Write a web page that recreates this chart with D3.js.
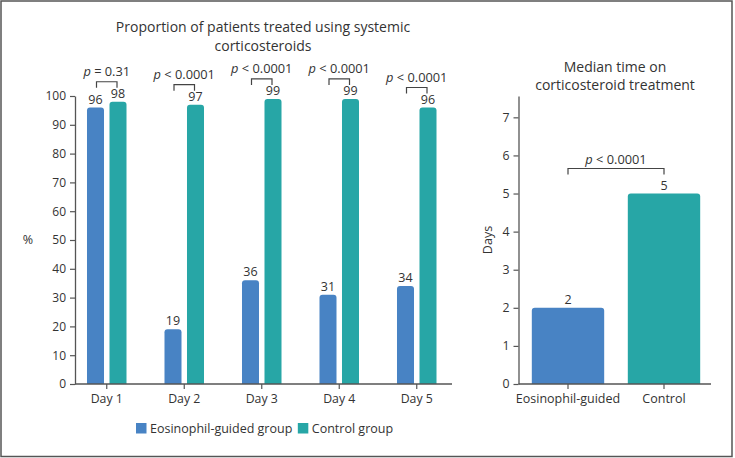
<!DOCTYPE html>
<html>
<head>
<meta charset="utf-8">
<script src="https://cdn.jsdelivr.net/npm/d3@7"></script>
<style>
  html, body { margin: 0; padding: 0; background: #fff; }
  svg { display: block; }
  text { font-family: "Open Sans", "Noto Sans", sans-serif; fill: #333; }
</style>
</head>
<body>
<svg id="chart" width="735" height="458"></svg>
<script>
// ---------- data ----------
const days = ["Day 1", "Day 2", "Day 3", "Day 4", "Day 5"];
const groups = ["Eosinophil-guided group", "Control group"];
const eosinophilPct = [96, 19, 36, 31, 34];
const controlPct = [98, 97, 99, 99, 96];
const dayPValues = ["= 0.31", "< 0.0001", "< 0.0001", "< 0.0001", "< 0.0001"];
const pctTicks = [0, 10, 20, 30, 40, 50, 60, 70, 80, 90, 100];

const medianCategories = ["Eosinophil-guided", "Control"];
const medianDays = [2, 5];
const medianPValue = "< 0.0001";
const dayTicks = [0, 1, 2, 3, 4, 5, 6, 7];

const colors = ["#4883c4", "#27a6a6"];
const axisColor = "#555";
const FONT = '"Open Sans", "Noto Sans", sans-serif';

const svg = d3.select("#chart");

// outer frame
svg.append("rect").attr("x", 1).attr("y", 1).attr("width", 731).attr("height", 455.5)
  .attr("fill", "none").attr("stroke", "#555").attr("stroke-width", 1.5);

function topRoundedBar(x, y, w, h, r) {
  r = Math.min(r, h, w / 2);
  return `M${x},${y + h}V${y + r}Q${x},${y} ${x + r},${y}H${x + w - r}Q${x + w},${y} ${x + w},${y + r}V${y + h}Z`;
}

function pLabel(g, x, y, rest) {
  const t = g.append("text").attr("x", x).attr("y", y).attr("text-anchor", "middle")
    .attr("font-size", 12.8);
  t.append("tspan").attr("font-style", "italic").text("p");
  t.append("tspan").text(" " + rest);
}

function bracket(g, x1, x2, yTop, leg) {
  g.append("path")
    .attr("d", `M${x1},${yTop + leg}V${yTop}H${x2}V${yTop + leg}`)
    .attr("fill", "none").attr("stroke", "#444").attr("stroke-width", 1.2);
}

function title(g, cx, y1, y2, l1, l2) {
  const t = g.append("text").attr("text-anchor", "middle").attr("font-size", 14);
  t.append("tspan").attr("x", cx).attr("y", y1).text(l1);
  t.append("tspan").attr("x", cx).attr("y", y2).text(l2);
}

function styleAxis(a, size) {
  a.selectAll(".tick line").attr("stroke", axisColor).attr("stroke-width", 1.2);
  a.selectAll(".tick text").attr("font-size", size).attr("fill", "#333").attr("font-family", FONT);
}

// ---------- left chart ----------
{
  const g = svg.append("g");
  const x0 = d3.scaleBand().domain(days).range([68, 455.5]).paddingInner(0).paddingOuter(0);
  const x1 = d3.scaleBand().domain(groups).range([-22.5, 22.5]).paddingInner(0.244).paddingOuter(0.122);
  const y = d3.scaleLinear().domain([0, 100]).range([384, 96]);

  title(g, 263, 32.3, 50.6, "Proportion of patients treated using systemic", "corticosteroids");

  // y axis
  const ya = g.append("g").attr("transform", "translate(75,0)")
    .call(d3.axisLeft(y).tickValues(pctTicks).tickSize(5).tickSizeOuter(0).tickPadding(4));
  ya.select(".domain").attr("stroke", axisColor).attr("stroke-width", 1.3);
  styleAxis(ya, 12);

  g.append("text").attr("x", 28).attr("y", 244).attr("text-anchor", "middle").attr("font-size", 12.5).text("%");

  // bars
  const rows = days.map((d, i) => ({ day: d, vals: [eosinophilPct[i], controlPct[i]], p: dayPValues[i] }));
  const dg = g.selectAll("g.day").data(rows).join("g").attr("class", "day")
    .attr("transform", d => `translate(${x0(d.day) + x0.bandwidth() / 2},0)`);

  dg.selectAll("path.bar").data(d => d.vals.map((v, j) => ({ v, grp: groups[j], j })))
    .join("path").attr("class", "bar")
    .attr("fill", d => colors[d.j])
    .attr("d", d => topRoundedBar(x1(d.grp), y(d.v), x1.bandwidth(), y(0) - y(d.v), 3));

  dg.selectAll("text.val").data(d => d.vals.map((v, j) => ({ v, grp: groups[j] })))
    .join("text").attr("class", "val")
    .attr("x", d => x1(d.grp) + x1.bandwidth() / 2)
    .attr("y", d => y(d.v) - 4)
    .attr("text-anchor", "middle").attr("font-size", 12.5)
    .text(d => d.v);

  dg.each(function (d) {
    const gg = d3.select(this);
    const m = Math.max(...d.vals);
    const top = y(m) - 20;
    const bx1 = x1(groups[0]) + x1.bandwidth() / 2 + 1;
    const bx2 = x1(groups[1]) + x1.bandwidth() / 2 - 1;
    bracket(gg, bx1, bx2, top, 6);
    pLabel(gg, 0, top - 5.5, d.p);
  });

  // x axis
  const xa = g.append("g").attr("transform", "translate(0,384)")
    .call(d3.axisBottom(x0).tickSize(5).tickSizeOuter(0).tickPadding(5));
  xa.select(".domain").remove();
  styleAxis(xa, 12.3);
  g.append("line").attr("x1", 75).attr("x2", 452).attr("y1", 384).attr("y2", 384)
    .attr("stroke", axisColor).attr("stroke-width", 1.3);

  // legend
  const lg = g.append("g").attr("transform", "translate(136,423)");
  let lx = 0;
  groups.forEach((name, i) => {
    lg.append("rect").attr("x", lx).attr("y", 0).attr("width", 10.5).attr("height", 10.5).attr("fill", colors[i]);
    const t = lg.append("text").attr("x", lx + 14).attr("y", 10).attr("font-size", 12.5).text(name);
    lx += 14 + t.node().getComputedTextLength() + 5.5;
  });
}

// ---------- right chart ----------
{
  const g = svg.append("g");
  const x = d3.scaleBand().domain(medianCategories).range([520, 712]).paddingInner(0.246).paddingOuter(0.123);
  const y = d3.scaleLinear().domain([0, 7.56]).range([384, 96]);

  title(g, 615, 72, 90, "Median time on", "corticosteroid treatment");

  const ya = g.append("g").attr("transform", "translate(518.5,0)")
    .call(d3.axisLeft(y).tickValues(dayTicks).tickSize(5).tickSizeOuter(0).tickPadding(4));
  ya.select(".domain").attr("stroke", axisColor).attr("stroke-width", 1.3);
  styleAxis(ya, 12.3);

  g.append("text").attr("transform", "translate(492,240) rotate(-90)").attr("text-anchor", "middle")
    .attr("font-size", 12.5).text("Days");

  const data = medianCategories.map((c, i) => ({ c, v: medianDays[i], i }));
  g.selectAll("path.bar").data(data).join("path").attr("class", "bar")
    .attr("fill", d => colors[d.i])
    .attr("d", d => topRoundedBar(x(d.c), y(d.v), x.bandwidth(), y(0) - y(d.v), 3));
  g.selectAll("text.val").data(data).join("text").attr("class", "val")
    .attr("x", d => x(d.c) + x.bandwidth() / 2).attr("y", d => y(d.v) - 4)
    .attr("text-anchor", "middle").attr("font-size", 12.5).text(d => d.v);

  const top = y(Math.max(...medianDays)) - 25;
  const bx1 = x(medianCategories[0]) + x.bandwidth() / 2;
  const bx2 = x(medianCategories[1]) + x.bandwidth() / 2;
  bracket(g, bx1, bx2, top, 6);
  pLabel(g, (bx1 + bx2) / 2, top - 5, medianPValue);

  const xa = g.append("g").attr("transform", "translate(0,384)")
    .call(d3.axisBottom(x).tickSize(5).tickSizeOuter(0).tickPadding(5));
  xa.select(".domain").remove();
  styleAxis(xa, 12.5);
  g.append("line").attr("x1", 518.5).attr("x2", 711).attr("y1", 384).attr("y2", 384)
    .attr("stroke", axisColor).attr("stroke-width", 1.3);
}
</script>
</body>
</html>
